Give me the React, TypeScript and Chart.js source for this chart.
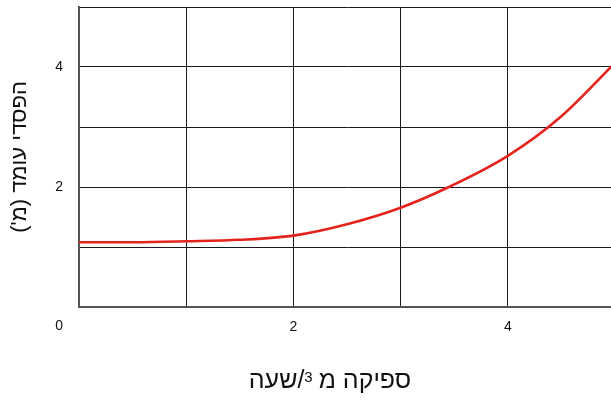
import React, { useEffect, useRef } from 'react';
import { Chart, registerables } from 'chart.js';

Chart.register(...registerables);

// Flow (m³/h) and head loss (m)
const flowValues = [0, 0.5, 1, 1.5, 2, 2.5, 3, 3.45, 4, 4.5, 5];
const headLossValues = [1.08, 1.08, 1.095, 1.12, 1.19, 1.38, 1.655, 2.0, 2.52, 3.18, 4.07];

const xTickLabels = [2, 4];
const yTickLabels = [2, 4];
const originLabel = '0';

// x title: "ספיקה מ³/שעה" (drawn in parts so the exponent is a real superscript)
const xTitleMain = 'ספיקה מ';
const xTitleSup = '3';
const xTitleUnit = '/שעה';
const yTitle = '\u2067הפסדי עומד (מ\')\u2069';

const FONT = "'Liberation Sans', Arial, sans-serif";

const labelsPlugin = {
  id: 'extraLabels',
  afterDraw(chart: any) {
    const { ctx, scales, chartArea } = chart;
    const xs = scales.x;
    const ys = scales.y;
    ctx.save();
    // origin label
    ctx.font = `14px ${FONT}`;
    ctx.fillStyle = '#111';
    ctx.textAlign = 'right';
    ctx.textBaseline = 'top';
    ctx.fillText(originLabel, ys.right - 16, xs.top + 12);

    // x axis title
    const mainFont = `25px ${FONT}`;
    const supFont = `15px ${FONT}`;
    ctx.direction = 'rtl';
    ctx.textAlign = 'left';
    ctx.textBaseline = 'alphabetic';
    ctx.font = mainFont;
    const w1 = ctx.measureText(xTitleMain).width;
    const w3 = ctx.measureText(xTitleUnit).width;
    ctx.font = supFont;
    const w2 = ctx.measureText(xTitleSup).width;
    const gap = 6;
    const total = w1 + gap + w2 + w3;
    const cx = (chartArea.left + chartArea.right) / 2 - 17;
    const baseY = xs.bottom - 13;
    let x = cx - total / 2;
    ctx.font = mainFont;
    ctx.fillText(xTitleUnit, x, baseY);
    x += w3;
    ctx.font = supFont;
    ctx.fillText(xTitleSup, x, baseY - 6);
    x += w2 + gap;
    ctx.font = mainFont;
    ctx.fillText(xTitleMain, x, baseY);
    ctx.restore();
  },
};

export default function App() {
  const ref = useRef<HTMLCanvasElement>(null);
  useEffect(() => {
    if (!ref.current) return;
    const chart = new Chart(ref.current, {
      type: 'line',
      data: {
        datasets: [
          {
            data: flowValues.map((x, i) => ({ x, y: headLossValues[i] })),
            borderColor: '#e5231d',
            borderWidth: 2.6,
            pointRadius: 0,
            cubicInterpolationMode: 'monotone',
            fill: false,
          },
        ],
      },
      options: {
        responsive: false,
        animation: false,
        layout: { autoPadding: false, padding: { left: 0, top: 7, right: 1, bottom: 0 } },
        plugins: { legend: { display: false }, tooltip: { enabled: false } },
        scales: {
          x: {
            type: 'linear',
            min: 0,
            max: 5,
            afterFit: (s: any) => {
              s.height = 94;
              s.paddingLeft = 0;
              s.paddingRight = 0;
              s.paddingTop = 0;
              s.paddingBottom = 0;
            },
            ticks: {
              stepSize: 1,
              autoSkip: false,
              maxRotation: 0,
              padding: 12,
              color: '#111',
              font: { family: FONT, size: 14 },
              callback: (v: any) => (xTickLabels.includes(Number(v)) ? String(v) : ''),
            },
            grid: { color: '#1a1a1a', lineWidth: 1, drawTicks: false },
            border: { color: '#555', width: 2 },
            title: { display: false },
          },
          y: {
            type: 'linear',
            min: 0,
            max: 5,
            afterFit: (s: any) => {
              s.width = 79;
              s.paddingLeft = 0;
              s.paddingRight = 0;
              s.paddingTop = 0;
              s.paddingBottom = 0;
            },
            ticks: {
              stepSize: 1,
              autoSkip: false,
              padding: 16,
              color: '#111',
              font: { family: FONT, size: 14 },
              callback: (v: any) => (yTickLabels.includes(Number(v)) ? String(v) : ''),
            },
            grid: { color: '#1a1a1a', lineWidth: 1, drawTicks: false },
            border: { color: '#555', width: 2 },
            title: {
              display: true,
              text: yTitle,
              color: '#111',
              font: { family: FONT, size: 22 },
              padding: { top: 7, bottom: 0 },
            },
          },
        },
      },
      plugins: [labelsPlugin],
    } as any);
    return () => chart.destroy();
  }, []);

  return (
    <div style={{ position: 'fixed', left: 0, top: 0, width: 616, height: 401, background: '#fff' }}>
      <canvas ref={ref} width={616} height={401} style={{ display: 'block' }} />
    </div>
  );
}
